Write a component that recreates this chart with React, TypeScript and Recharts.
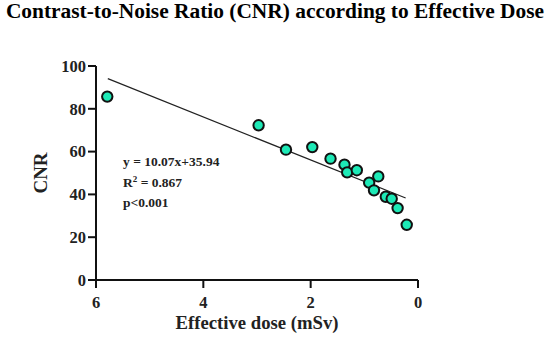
import React from "react";
import {
  ScatterChart,
  Scatter,
  XAxis,
  YAxis,
  Label,
} from "recharts";

// effective dose (mSv) vs CNR
const dose = [5.79, 2.97, 2.46, 1.97, 1.63, 1.37, 1.32, 1.14, 0.74, 0.91, 0.82, 0.6, 0.49, 0.38, 0.21];
const cnr = [85.7, 72.3, 60.9, 62.1, 56.7, 53.9, 50.3, 51.3, 48.4, 45.5, 41.9, 38.9, 38.0, 33.6, 25.8];

// regression line end points
const fitX = [5.78, 0.23];
const fitY = [94.1, 38.3];

const xTicks = [0, 2, 4, 6];
const yTicks = [0, 20, 40, 60, 80, 100];

const FONT = "'Liberation Serif', 'Times New Roman', serif";

const points = dose.map((d, i) => ({ x: d, y: cnr[i] }));
const fit = fitX.map((d, i) => ({ x: d, y: fitY[i] }));

const Dot = (props: any) => {
  const { cx, cy } = props;
  if (cx == null || cy == null) return null;
  return <circle cx={cx} cy={cy} r={5.2} fill="#1DE9B6" stroke="#111" strokeWidth={2} />;
};

const tickStyle = { fontFamily: FONT, fontWeight: 700, fontSize: 16.5, fill: "#222" };

export default function App() {
  return (
    <div style={{ position: "absolute", left: 0, top: 0, width: 550, height: 348, background: "#fff" }}>
      <div
        style={{
          position: "absolute",
          top: 0,
          left: 0,
          width: 550,
          textAlign: "center",
          fontFamily: FONT,
          fontWeight: 700,
          fontSize: 21.4,
          lineHeight: "22px",
          color: "#000",
          whiteSpace: "nowrap",
        }}
      >
        Contrast-to-Noise Ratio (CNR) according to Effective Dose
      </div>
      <ScatterChart width={550} height={348} margin={{ top: 66, right: 132, bottom: 0, left: 0 }}>
        <XAxis
          type="number"
          dataKey="x"
          domain={[0, 6]}
          ticks={xTicks}
          reversed
          axisLine={{ stroke: "#111", strokeWidth: 2 }}
          tickLine={{ stroke: "#111", strokeWidth: 2 }}
          tickSize={8}
          tickMargin={8}
          tick={tickStyle}
          height={68}
        >
          <Label
            value="Effective dose (mSv)"
            position="insideBottom"
            offset={19}
            style={{ fontFamily: FONT, fontWeight: 700, fontSize: 18.7, fill: "#222" }}
          />
        </XAxis>
        <YAxis
          type="number"
          dataKey="y"
          domain={[0, 100]}
          ticks={yTicks}
          axisLine={{ stroke: "#111", strokeWidth: 2 }}
          tickLine={{ stroke: "#111", strokeWidth: 2 }}
          tickSize={8}
          tickMargin={2}
          tick={tickStyle}
          width={96}
        >
          <Label
            value="CNR"
            angle={-90}
            position="insideLeft"
            offset={40}
            style={{ textAnchor: "middle", fontFamily: FONT, fontWeight: 700, fontSize: 19, fill: "#222" }}
          />
        </YAxis>
        <Scatter
          data={fit}
          line={{ stroke: "#222", strokeWidth: 1.2 }}
          shape={() => null}
          isAnimationActive={false}
        />
        <Scatter data={points} shape={<Dot />} isAnimationActive={false} />
      </ScatterChart>
      <div
        style={{
          position: "absolute",
          left: 123,
          top: 152,
          fontFamily: FONT,
          fontWeight: 700,
          fontSize: 13.5,
          lineHeight: "20.5px",
          color: "#222",
        }}
      >
        <div>y = 10.07x+35.94</div>
        <div>
          R<sup style={{ fontSize: 9, lineHeight: 0 }}>2</sup> = 0.867
        </div>
        <div>p&lt;0.001</div>
      </div>
    </div>
  );
}
